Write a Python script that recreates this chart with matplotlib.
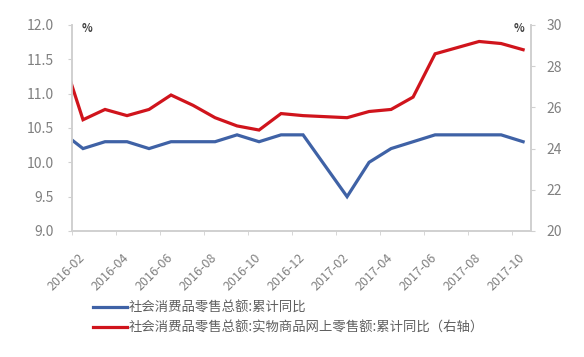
import matplotlib.pyplot as plt
import numpy as np

plt.rcParams['font.family'] = ['Noto Sans CJK SC', 'DejaVu Sans']

# month index: 2016-02 = 0 ; 2017-01 is not published (Jan-Feb combined)
months = ['2015-12', '2016-02', '2016-03', '2016-04', '2016-05', '2016-06', '2016-07',
          '2016-08', '2016-09', '2016-10', '2016-11', '2016-12',
          '2017-02', '2017-03', '2017-04', '2017-05', '2017-06', '2017-07',
          '2017-08', '2017-09', '2017-10']
retail = [10.7, 10.2, 10.3, 10.3, 10.2, 10.3, 10.3, 10.3, 10.4, 10.3, 10.4, 10.4,
          9.5, 10.0, 10.2, 10.3, 10.4, 10.4, 10.4, 10.4, 10.3]
online = [32.0, 25.4, 25.9, 25.6, 25.9, 26.6, 26.1, 25.5, 25.1, 24.9, 25.7, 25.6,
          25.5, 25.8, 25.9, 26.5, 28.6, 28.9, 29.2, 29.1, 28.8]
tick_labels = ['2016-02', '2016-04', '2016-06', '2016-08', '2016-10', '2016-12',
               '2017-02', '2017-04', '2017-06', '2017-08', '2017-10']

label_blue = '社会消费品零售总额:累计同比'
label_red = '社会消费品零售总额:实物商品网上零售额:累计同比（右轴）'


def month_index(s):
    y, m = s.split('-')
    return (int(y) - 2016) * 12 + int(m) - 2

x = np.array([month_index(s) for s in months])
tx = np.array([month_index(s) for s in tick_labels])

blue = '#3f62a6'
red = '#d0141c'
grey = '#808080'
spine = '#d0d0d0'

fig = plt.figure(figsize=(5.84, 3.57), dpi=100)
ax = fig.add_axes([0.1233, 0.353, 0.786, 0.577])
ax2 = ax.twinx()

l1, = ax.plot(x, retail, color=blue, lw=2.3, solid_joinstyle='miter')
l2, = ax2.plot(x, online, color=red, lw=2.3, solid_joinstyle='miter')

ax.set_xlim(-0.5, 20.36)
ax.set_ylim(9.0, 12.0)
ax2.set_ylim(20, 30)
ax.set_yticks(np.arange(9.0, 12.01, 0.5))
ax.set_yticklabels(['%.1f' % v for v in np.arange(9.0, 12.01, 0.5)])
ax2.set_yticks(np.arange(20, 31, 2))

ax.set_xticks(tx)
ax.set_xticklabels(tick_labels, rotation=45, ha='right', va='center',
                   rotation_mode='anchor')
ax.set_xticks(tx - 0.5, minor=True)
ax.tick_params(axis='x', which='major', length=0, pad=18, labelsize=9, labelcolor=grey)
ax.tick_params(axis='x', which='minor', length=3, color=spine)
ax.tick_params(axis='y', length=3, color=spine, labelsize=10, labelcolor=grey, pad=10)
ax2.tick_params(axis='y', length=3, color=spine, labelsize=10, labelcolor=grey, pad=8)

for a in (ax, ax2):
    a.spines['top'].set_visible(False)
    for s in ('left', 'right', 'bottom'):
        a.spines[s].set_color(spine)
        a.spines[s].set_linewidth(1.2)

ax.text(0.02, 0.985, '%', transform=ax.transAxes, fontsize=8, color='#404040',
        ha='left', va='center', fontweight='bold')
ax2.text(0.985, 0.985, '%', transform=ax.transAxes, fontsize=8, color='#404040',
         ha='right', va='center', fontweight='bold')

fig.legend([l1, l2], [label_blue, label_red], loc='upper left',
           bbox_to_anchor=(0.160, 0.158), frameon=False, fontsize=9.6,
           handlelength=2.5, handletextpad=0.15, labelspacing=0.45,
           labelcolor='#606060', borderaxespad=0, borderpad=0)

fig.savefig('out.png', dpi=100)
